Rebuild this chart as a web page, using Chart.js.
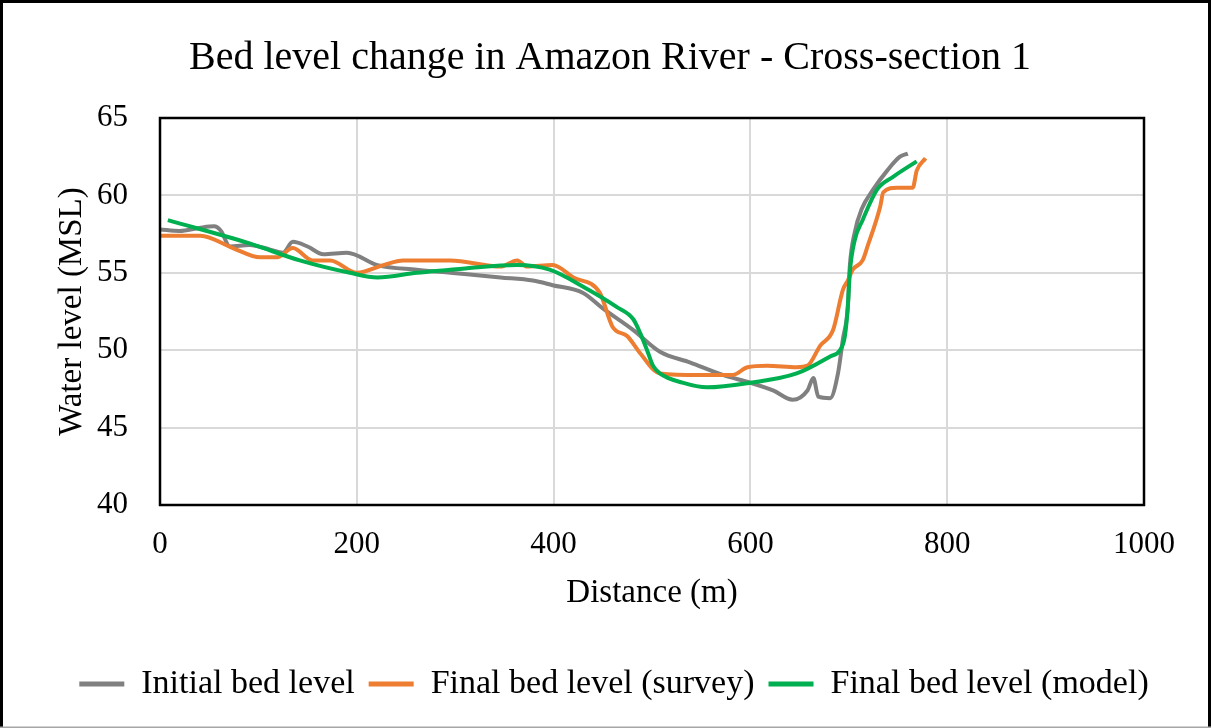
<!DOCTYPE html>
<html>
<head>
<meta charset="utf-8">
<script src="https://cdn.jsdelivr.net/npm/chart.js@4"></script>
<style>
  html, body { margin: 0; padding: 0; background: #fff; }
  canvas { display: block; }
</style>
</head>
<body>
<canvas id="grafico" width="1211" height="728"></canvas>
<script>
// Dados (distância em m, nível em MSL)
const initialX = [0, 20, 40, 55, 62, 71, 91, 112, 125, 135, 150, 166, 190, 221, 261, 295, 346, 379, 399, 430,
    450, 481, 508, 539, 572, 600, 623, 643, 658, 664, 669, 681, 689, 694, 699, 701, 706, 713, 725, 739, 752, 760];
const initialY = [57.8, 57.7, 57.9, 58.0, 57.7, 56.7, 56.8, 56.5, 56.3, 57.0, 56.7, 56.2, 56.3, 55.5, 55.2, 55.0, 54.7, 54.5, 54.2, 53.7,
    52.7, 51.3, 49.9, 49.2, 48.4, 47.9, 47.4, 46.8, 47.4, 48.2, 47.0, 46.9, 48.5, 50.7, 52.8, 55.4, 57.6, 59.1, 60.4, 61.6, 62.5, 62.7];

const surveyX = [0, 41, 74, 102, 119, 135, 155, 173, 200, 227, 247, 295, 346, 363, 373, 399, 420, 447, 460, 475,
    488, 508, 549, 582, 597, 617, 647, 658, 671, 684, 694, 699, 704, 714, 719, 732, 735, 749, 765, 769, 778];
const surveyY = [57.4, 57.4, 56.6, 56.0, 56.0, 56.6, 55.8, 55.8, 55.0, 55.5, 55.8, 55.8, 55.4, 55.8, 55.4, 55.5, 54.7, 53.7, 51.5, 50.9,
    49.8, 48.5, 48.4, 48.4, 48.9, 49.0, 48.9, 49.0, 50.3, 51.3, 53.9, 54.5, 55.2, 55.8, 56.7, 59.3, 60.2, 60.5, 60.5, 61.6, 62.4];

const modelX = [8, 91, 142, 193, 221, 261, 295, 312, 363, 396, 430, 464, 481, 488, 495, 501, 508, 531, 556, 600,
    647, 681, 691, 696, 699, 701, 706, 714, 729, 745, 769];
const modelY = [58.4, 56.9, 55.8, 55.0, 54.7, 55.0, 55.2, 55.3, 55.5, 55.2, 54.1, 52.8, 52.0, 51.1, 50.0, 49.0, 48.5, 47.9, 47.6, 47.9,
    48.5, 49.6, 50.0, 50.9, 52.8, 55.0, 57.1, 58.4, 60.4, 61.2, 62.2];

const seriesLabels = ['Initial bed level', 'Final bed level (survey)', 'Final bed level (model)'];
const xTicks = [0, 200, 400, 600, 800, 1000];
const yTicks = [40, 45, 50, 55, 60, 65];

const FONTE = "'Liberation Serif', 'Times New Roman', serif";

const pontos = (xs, ys) => xs.map((x, i) => ({ x, y: ys[i] }));

// Moldura da área do gráfico e borda externa
const molduras = {
    id: 'molduras',
    afterLayout(chart) {
        // título e legenda centrados na figura toda, como no original
        chart.titleBlock.left += 38;
        chart.titleBlock.right += 38;
        chart.legend.left += 42;
        chart.legend.right += 42;
    },
    afterDatasetsDraw(chart) {
        const { ctx, chartArea: a, width, height } = chart;
        ctx.save();
        ctx.strokeStyle = '#000';
        ctx.lineWidth = 2.5;
        ctx.strokeRect(a.left, a.top, a.right - a.left, a.bottom - a.top);
        ctx.lineWidth = 3;
        ctx.beginPath();
        ctx.moveTo(1.5, height);
        ctx.lineTo(1.5, 1.5);
        ctx.lineTo(width - 1.5, 1.5);
        ctx.lineTo(width - 1.5, height);
        ctx.stroke();
        ctx.strokeStyle = '#a6a6a6';
        ctx.lineWidth = 1.5;
        ctx.beginPath();
        ctx.moveTo(0, height - 0.75);
        ctx.lineTo(width, height - 0.75);
        ctx.stroke();
        ctx.restore();
    }
};

const serie = (label, xs, ys, cor, ordem) => ({
    label,
    data: pontos(xs, ys),
    borderColor: cor,
    backgroundColor: cor,
    borderWidth: 4,
    pointRadius: 0,
    cubicInterpolationMode: 'monotone',
    fill: false,
    order: ordem
});

new Chart(document.getElementById('grafico').getContext('2d'), {
    type: 'line',
    data: {
        datasets: [
            serie(seriesLabels[0], initialX, initialY, '#808080', 3),
            serie(seriesLabels[1], surveyX, surveyY, '#ED7D31', 2),
            serie(seriesLabels[2], modelX, modelY, '#00B050', 1)
        ]
    },
    options: {
        responsive: false,
        animation: false,
        devicePixelRatio: 1,
        layout: { padding: { top: 10, left: 0, right: 67, bottom: 17 } },
        plugins: {
            title: {
                display: true,
                text: 'Bed level change in Amazon River - Cross-section 1',
                color: '#000',
                font: { family: FONTE, size: 40, weight: 'normal' },
                padding: { top: 24, bottom: 36 }
            },
            legend: {
                position: 'bottom',
                labels: {
                    color: '#000',
                    font: { family: FONTE, size: 34 },
                    boxWidth: 45,
                    boxHeight: 5,
                    padding: 14,
                    generateLabels: (chart) => chart.data.datasets.map((ds, i) => ({
                        text: ds.label,
                        fillStyle: ds.borderColor,
                        strokeStyle: ds.borderColor,
                        lineWidth: 0,
                        fontColor: '#000',
                        hidden: false,
                        datasetIndex: i
                    }))
                }
            },
            tooltip: { enabled: false }
        },
        scales: {
            x: {
                type: 'linear',
                min: 0,
                max: 1000,
                afterFit: (scale) => { scale.height = 148; },
                afterBuildTicks: (scale) => { scale.ticks = xTicks.map(v => ({ value: v })); },
                ticks: {
                    color: '#000',
                    font: { family: FONTE, size: 31 },
                    padding: 21,
                    maxRotation: 0,
                    callback: (v) => String(v)
                },
                grid: { color: '#d9d9d9', lineWidth: 2, drawTicks: false },
                border: { display: false },
                title: {
                    display: true,
                    text: 'Distance (m)',
                    color: '#000',
                    font: { family: FONTE, size: 33 },
                    padding: { top: 0, bottom: 40 }
                }
            },
            y: {
                min: 40,
                max: 65,
                afterFit: (scale) => { scale.width = 160; },
                afterBuildTicks: (scale) => { scale.ticks = yTicks.map(v => ({ value: v })); },
                ticks: {
                    color: '#000',
                    font: { family: FONTE, size: 31 },
                    padding: 32
                },
                grid: { color: '#d9d9d9', lineWidth: 2, drawTicks: false },
                border: { display: false },
                title: {
                    display: true,
                    text: 'Water level (MSL)',
                    color: '#000',
                    font: { family: FONTE, size: 33 },
                    padding: { top: 53, bottom: 0 }
                }
            }
        }
    },
    plugins: [molduras]
});
</script>
</body>
</html>
